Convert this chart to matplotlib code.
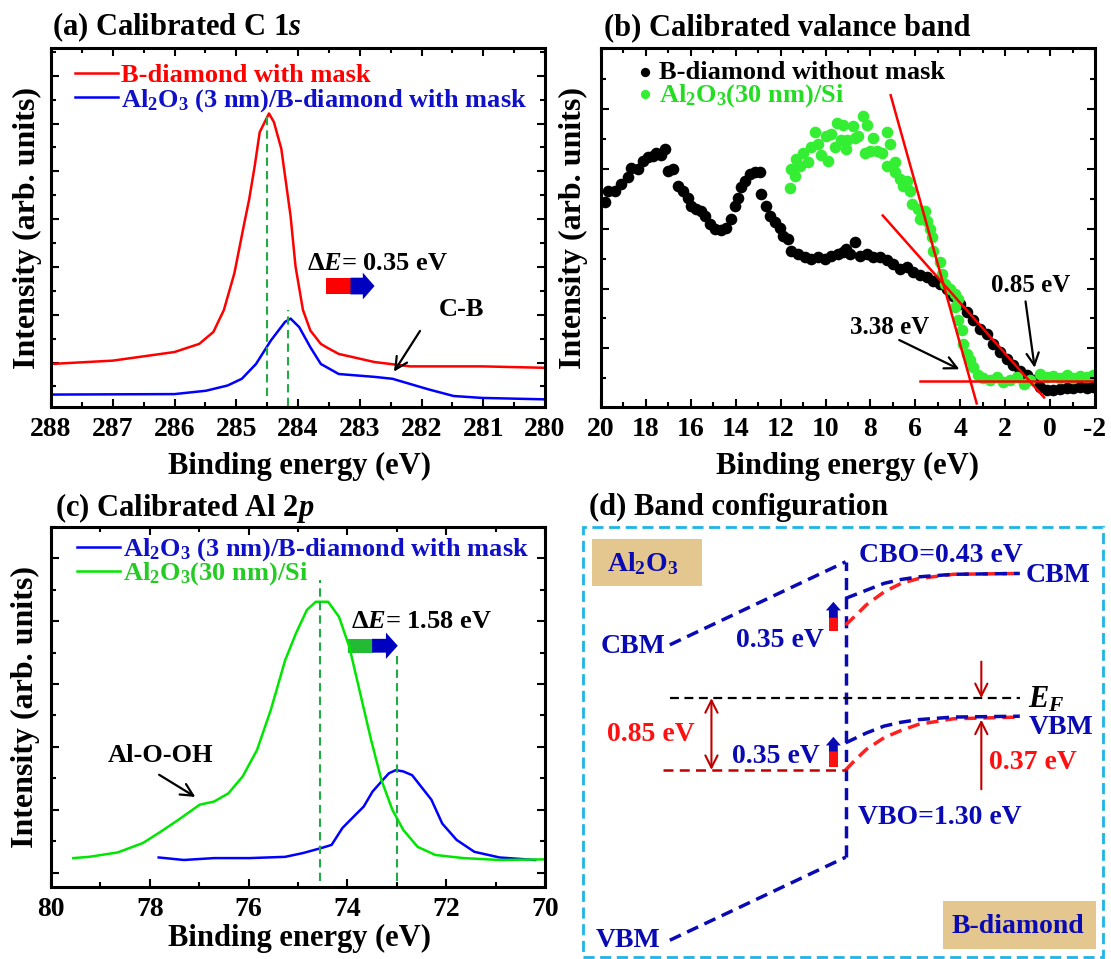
import matplotlib
matplotlib.use('Agg')
from matplotlib import pyplot as plt
from matplotlib.patches import Rectangle, FancyArrow
from matplotlib.ticker import MultipleLocator

# settings: Times-like bold everywhere, also inside mathtext
plt.rcParams['font.family'] = ['Liberation Serif', 'DejaVu Serif']
plt.rcParams['font.weight'] = 'bold'
plt.rcParams['mathtext.fontset'] = 'custom'
plt.rcParams['mathtext.rm'] = 'Liberation Serif:bold'
plt.rcParams['mathtext.it'] = 'Liberation Serif:italic:bold'
plt.rcParams['mathtext.bf'] = 'Liberation Serif:bold'
plt.rcParams['mathtext.default'] = 'rm'
plt.rcParams['axes.unicode_minus'] = False

# ---------------- data ----------------
# (a) C 1s
c1s_x_red = [288, 287, 286, 285.6, 285.37, 285.2, 285.03, 284.88, 284.79, 284.7, 284.62, 284.47,
             284.39, 284.33, 284.27, 284.12, 284.04, 283.92, 283.8, 283.63, 283.54, 283.34,
             282.76, 282.18, 281.02, 280]
c1s_red = [-0.03, 0.04, 0.22, 0.39, 0.64, 1.10, 1.87, 2.85, 3.42, 4.12, 4.82, 5.21,
           5.03, 4.75, 4.47, 3.06, 2.01, 1.10, 0.67, 0.39, 0.32, 0.18,
           0.01, -0.08, -0.08, -0.11]
c1s_x_blue = [288, 286, 285.49, 285.14, 284.91, 284.68, 284.44, 284.21, 284.12, 283.98,
              283.8, 283.63, 283.34, 282.76, 282.47, 282.18, 281.89, 281.48, 281.02, 280]
c1s_blue = [-0.67, -0.66, -0.59, -0.48, -0.34, -0.03, 0.46, 0.85, 0.92, 0.74,
            0.32, -0.03, -0.24, -0.30, -0.34, -0.45, -0.56, -0.70, -0.74, -0.77]
c1s_peaks = [284.5, 284.17]

# (b) valence band
vb_x_black = [19.84, 19.69, 19.39, 19.09, 18.8, 18.65, 18.35, 18.13, 17.91, 17.68, 17.54, 17.31,
              17.16, 17.02, 16.79, 16.57, 16.35, 16.12, 15.98, 15.75, 15.53, 15.38, 15.16, 14.94,
              14.64, 14.42, 14.2, 14.04, 13.9, 13.75, 13.6, 13.38, 13.15, 12.93, 12.86, 12.64,
              12.49, 12.26, 12.04, 11.89, 11.67, 11.52, 11.22, 10.93, 10.63, 10.33, 10.04, 9.74,
              9.44, 9.21, 9.07, 8.91, 8.69, 8.46, 8.16, 7.87, 7.57, 7.27, 6.98, 6.68, 6.38, 6.09,
              5.79, 5.49, 5.2, 4.9, 4.6, 4.31, 4.01, 3.71, 3.42, 3.12, 2.82, 2.53, 2.23, 1.93,
              1.63, 1.34, 1.04, 0.74, 0.45, 0.15, -0.15, -0.45, -0.74, -1.04, -1.34, -1.63, -1.93]
vb_black = [2.44, 2.63, 2.63, 2.74, 2.86, 3.02, 3.0, 3.13, 3.19, 3.22, 3.27, 3.24,
            3.33, 2.97, 3.0, 2.72, 2.63, 2.52, 2.38, 2.33, 2.3, 2.22, 2.08, 1.99,
            1.98, 2.02, 2.16, 2.38, 2.52, 2.69, 2.8, 2.91, 2.94, 2.94, 2.58, 2.38,
            2.22, 2.11, 2.02, 1.88, 1.83, 1.63, 1.58, 1.52, 1.49, 1.52, 1.49, 1.55,
            1.58, 1.61, 1.66, 1.58, 1.77, 1.55, 1.58, 1.52, 1.52, 1.47, 1.41, 1.33, 1.36, 1.27,
            1.22, 1.19, 1.13, 1.08, 0.99, 0.88, 0.74, 0.61, 0.47, 0.33, 0.24, 0.08, -0.06, -0.17,
            -0.28, -0.37, -0.45, -0.53, -0.64, -0.7, -0.7, -0.68, -0.67, -0.67, -0.64, -0.66, -0.64]
vb_x_green = [11.6, 11.52, 11.37, 11.3, 11.15, 11.0, 10.78, 10.63, 10.48, 10.33, 10.19, 9.96,
              9.89, 9.74, 9.59, 9.47, 9.29, 9.21, 9.07, 9.05, 8.76, 8.69, 8.54, 8.34, 8.24,
              8.16, 8.02, 7.87, 7.72, 7.5, 7.27, 7.13, 7.27, 6.9, 6.9, 6.68, 6.53, 6.38, 6.24,
              6.16, 5.87, 5.79, 5.57, 5.49, 5.35, 5.27, 5.2, 4.9, 4.82, 4.68, 4.45, 4.23, 4.08,
              4.23, 4.08, 3.93, 3.86, 3.71, 3.56, 3.42, 3.19, 2.97, 2.67, 2.37, 2.08, 1.78,
              1.48, 1.18, 0.89, 0.45, 0.15, -0.15, -0.45, -0.74, -1.04, -1.34, -1.63, -1.93]
vb_green = [2.68, 2.99, 2.88, 3.16, 3.05, 3.27, 3.11, 3.36, 3.61, 3.41, 3.24, 3.55,
            3.13, 3.58, 3.36, 3.76, 3.49, 3.74, 3.33, 3.49, 3.72, 3.52, 3.55, 3.88, 3.27,
            3.74, 3.3, 3.52, 3.3, 3.27, 3.61, 3.41, 3.05, 3.11, 2.94, 2.83, 2.72, 2.8, 2.63,
            2.41, 2.33, 2.16, 2.3, 2.13, 1.99, 1.86, 1.63, 1.44, 1.24, 1.08, 0.99, 0.91, 0.83,
            0.69, 0.47, 0.3, 0.08, -0.09, -0.2, -0.31, -0.45, -0.5, -0.53, -0.48, -0.56, -0.53,
            -0.48, -0.59, -0.53, -0.43, -0.48, -0.47, -0.49, -0.45, -0.49, -0.47, -0.48, -0.45]
# linear fits (end points) for the onsets
fit_steep_x, fit_steep_y = [7.1, 3.27], [4.23, -0.92]
fit_slope_x, fit_slope_y = [7.45, 0.27], [2.22, -0.82]
fit_base_x, fit_base_y = [5.79, -2.08], [-0.55, -0.55]

# (c) Al 2p
al_x_green = [79.55, 79.23, 78.65, 78.14, 77.78, 77.42, 76.99, 76.7, 76.41, 76.12, 75.83, 75.55,
              75.26, 75.04, 74.82, 74.64, 74.39, 74.17, 73.96, 73.74, 73.52, 73.31, 73.09,
              72.87, 72.58, 72.22, 71.65, 70.92, 70.0]
al_green = [0.23, 0.25, 0.32, 0.47, 0.65, 0.84, 1.08, 1.13, 1.26, 1.53, 1.95, 2.59,
            3.38, 3.81, 4.18, 4.31, 4.31, 4.07, 3.59, 2.85, 2.11, 1.47, 1.00,
            0.68, 0.41, 0.28, 0.23, 0.20, 0.21]
al_x_blue = [77.82, 77.31, 76.7, 75.98, 75.26, 74.9, 74.53, 74.32, 74.1, 73.81, 73.67, 73.49,
             73.31, 73.16, 73.02, 72.87, 72.69, 72.51, 72.3, 72.08, 71.79, 71.43, 70.92, 70.2]
al_blue = [0.24, 0.20, 0.23, 0.23, 0.25, 0.31, 0.39, 0.44, 0.71, 0.94, 1.05, 1.29,
           1.45, 1.58, 1.63, 1.61, 1.55, 1.37, 1.16, 0.78, 0.52, 0.33, 0.24, 0.20]
al_peaks = [74.55, 73.0]

# (d) band diagram, schematic units (box = 0..100)
al2o3_x = [16.7, 50.5]
al2o3_cbm = [72.6, 91.9]
al2o3_vbm = [3.9, 23.2]
dia_x_cb_blue = [50.5, 54.5, 57.9, 61.2, 64.5, 71.2, 84.0]
dia_cb_blue = [83.4, 85.3, 86.9, 87.8, 88.4, 89.0, 89.2]
dia_x_cb_red = [50.5, 52.5, 54.5, 57.9, 61.2, 64.5, 71.2, 84.0]
dia_cb_red = [77.2, 79.5, 81.9, 84.9, 86.9, 88.0, 89.0, 89.2]
dia_x_vb_blue = [50.5, 54.5, 57.9, 61.2, 64.5, 71.2, 84.0]
dia_vb_blue = [49.8, 52.1, 53.7, 54.6, 55.2, 55.8, 56.0]
dia_x_vb_red = [50.5, 52.5, 54.5, 57.9, 61.2, 64.5, 71.2, 84.0]
dia_vb_red = [43.5, 46.0, 48.3, 51.0, 52.7, 54.1, 55.4, 55.8]
ef_x, ef_level = [16.7, 84.0], 60.2
vbm_ref_x, vbm_ref_level = [15.4, 50.5], 43.5

W, H = 1111.0, 959.0
RED = '#ff0000'
BLUE = '#0000ff'
GREEN = '#00e600'
DGREEN = '#22aa44'
NAVY = '#0a0ab4'
DRED = '#c00000'


def px(x, y, w, h):
    # figure rectangle from pixel box (top-left origin)
    return [x / W, 1 - (y + h) / H, w / W, h / H]


def style(ax, xmaj, xmin, ymaj, ymin):
    ax.xaxis.set_major_locator(MultipleLocator(xmaj))
    ax.xaxis.set_minor_locator(MultipleLocator(xmin))
    ax.yaxis.set_major_locator(MultipleLocator(ymaj))
    ax.yaxis.set_minor_locator(MultipleLocator(ymin))
    ax.tick_params(which='both', direction='in', top=True, right=True, width=1.5,
                   labelsize=20, pad=7, labelleft=False)
    ax.tick_params(which='major', length=6)
    ax.tick_params(which='minor', length=3.5)
    for s in ax.spines.values():
        s.set_linewidth(2.2)


fig = plt.figure(figsize=(W / 100, H / 100), dpi=100)

# ---------------- (a) ----------------
ax = fig.add_axes(px(51, 48, 494, 359))
ax.plot(c1s_x_red, c1s_red, color=RED, lw=1.8, label='B-diamond with mask')
ax.plot(c1s_x_blue, c1s_blue, color=BLUE, lw=1.8,
        label='Al$_2$O$_3$ (3 nm)/B-diamond with mask')
ax.plot([c1s_peaks[0]] * 2, [-0.7, 5.25], color=DGREEN, lw=1.5, dashes=(4, 2.5))
ax.plot([c1s_peaks[1]] * 2, [-0.9, 1.1], color=DGREEN, lw=1.5, dashes=(4, 2.5))
ax.set_xlim(288, 280)
ax.set_ylim(-0.93, 6.58)
style(ax, 1, 0.5, 1, 0.5)
ax.legend(loc='upper left', bbox_to_anchor=(0.0486, 0.957), frameon=False, fontsize=19,
          handlelength=1.63, handletextpad=0.1, labelspacing=0.01, borderaxespad=0,
          borderpad=0, labelcolor=['#ff0000', '#1010c8'])
ax.add_patch(Rectangle((283.14, 1.425), 0.40, 0.35, color=RED, lw=0))
ax.add_patch(FancyArrow(283.15, 1.6, -0.39, 0, width=0.35, head_width=0.56, head_length=0.19,
                        length_includes_head=True, color='#0000c0', lw=0))
ax.text(283.86, 2.08, r'Δ$\mathit{E}$= 0.35 eV', fontsize=19, ha='left', va='center')
ax.text(281.36, 1.1, 'C-B', fontsize=19, ha='center', va='center')
ax.annotate('', xy=(282.47, -0.24), xytext=(282.0, 0.71),
            arrowprops=dict(arrowstyle='->', lw=1.6, color='k', mutation_scale=22))

# ---------------- (b) ----------------
ax = fig.add_axes(px(601, 48, 494, 359))
ax.scatter(vb_x_black, vb_black, s=70, color='k', lw=0, label='B-diamond without mask')
ax.scatter(vb_x_green, vb_green, s=70, color='#33ee33', lw=0, label='Al$_2$O$_3$(30 nm)/Si')
ax.plot(fit_steep_x, fit_steep_y, color=RED, lw=1.8)
ax.plot(fit_slope_x, fit_slope_y, color=RED, lw=1.8)
ax.plot(fit_base_x, fit_base_y, color=RED, lw=1.8)
ax.set_xlim(20, -2)
ax.set_ylim(-0.98, 5.02)
style(ax, 2, 1, 1, 0.5)
ax.legend(loc='upper left', bbox_to_anchor=(0.073, 0.965), frameon=False, fontsize=19,
          handlelength=0.6, handletextpad=0.25, labelspacing=-0.08, borderaxespad=0,
          borderpad=0, scatterpoints=1, markerscale=0.8, labelcolor=['k', '#22dd22'])
ax.text(0.85, 1.05, '0.85 eV', fontsize=18, ha='center', va='center')
ax.annotate('', xy=(0.67, -0.37), xytext=(1.11, 0.83),
            arrowprops=dict(arrowstyle='->', lw=1.6, color='k', mutation_scale=22))
ax.text(7.13, 0.35, '3.38 eV', fontsize=18, ha='center', va='center')
ax.annotate('', xy=(3.93, -0.37), xytext=(6.83, 0.16),
            arrowprops=dict(arrowstyle='->', lw=1.6, color='k', mutation_scale=22))

# ---------------- (c) ----------------
ax = fig.add_axes(px(51, 527, 494, 360))
ax.plot(al_x_blue, al_blue, color=BLUE, lw=1.8, label='Al$_2$O$_3$ (3 nm)/B-diamond with mask')
ax.plot(al_x_green, al_green, color=GREEN, lw=1.8, label='Al$_2$O$_3$(30 nm)/Si')
ax.plot([al_peaks[0]] * 2, [-0.14, 4.66], color=DGREEN, lw=1.5, dashes=(4, 2.5))
ax.plot([al_peaks[1]] * 2, [-0.14, 3.49], color=DGREEN, lw=1.5, dashes=(4, 2.5))
ax.set_xlim(80, 70)
ax.set_ylim(-0.23, 5.5)
style(ax, 2, 1, 1, 0.5)
ax.legend(loc='upper left', bbox_to_anchor=(0.0526, 0.974), frameon=False, fontsize=19,
          handlelength=1.63, handletextpad=0.1, labelspacing=-0.1, borderaxespad=0,
          borderpad=0, labelcolor=['#1010c8', '#22cc22'])
ax.add_patch(Rectangle((73.49, 3.5), 0.5, 0.22, color='#22bb33', lw=0))
ax.add_patch(FancyArrow(73.5, 3.61, -0.52, 0, width=0.22, head_width=0.42, head_length=0.24,
                        length_includes_head=True, color='#0000c0', lw=0))
ax.text(73.92, 3.99, r'Δ$\mathit{E}$= 1.58 eV', fontsize=19, ha='left', va='center')
ax.text(77.78, 1.87, 'Al-O-OH', fontsize=19, ha='center', va='center')
ax.annotate('', xy=(77.03, 1.18), xytext=(77.86, 1.58),
            arrowprops=dict(arrowstyle='->', lw=1.6, color='k', mutation_scale=22))

# ---------------- (d) ----------------
ax = fig.add_axes(px(583, 527, 520, 430))
ax.set_xlim(0, 100)
ax.set_ylim(0, 100)
ax.axis('off')
ax.add_patch(Rectangle((0, 0), 1, 1, transform=ax.transAxes, fill=False, ec='#1eb4e6',
                       lw=2, ls=(0, (4, 2)), clip_on=False))
ax.add_patch(Rectangle((1.8, 86.3), 21.1, 11.0, color='#e4c78e', lw=0))
ax.add_patch(Rectangle((69.2, 1.9), 29.5, 11.2, color='#e4c78e', lw=0))
ax.text(11.4, 91.5, 'Al$_2$O$_3$', color=NAVY, fontsize=20, ha='center', va='center')
ax.text(83.6, 7.2, 'B-diamond', color=NAVY, fontsize=20, ha='center', va='center')

bd = dict(lw=2.5, dashes=(3.5, 2))
ax.plot(al2o3_x, al2o3_cbm, color=NAVY, **bd)
ax.plot(al2o3_x, al2o3_vbm, color=NAVY, **bd)
ax.plot([al2o3_x[1]] * 2, [al2o3_vbm[1], al2o3_cbm[1]], color=NAVY, **bd)
ax.plot(dia_x_cb_red, dia_cb_red, color='#ff2020', **bd)
ax.plot(dia_x_cb_blue, dia_cb_blue, color=NAVY, **bd)
ax.plot(dia_x_vb_red, dia_vb_red, color='#ff2020', **bd)
ax.plot(dia_x_vb_blue, dia_vb_blue, color=NAVY, **bd)
ax.plot(ef_x, [ef_level] * 2, color='k', lw=1.6, dashes=(4, 2.5))
ax.plot(vbm_ref_x, [vbm_ref_level] * 2, color=DRED, lw=1.8, dashes=(4, 2.5))

ax.annotate('', xy=(24.7, vbm_ref_level), xytext=(24.7, ef_level),
            arrowprops=dict(arrowstyle='<->', lw=1.5, color=DRED, mutation_scale=22,
                            shrinkA=0, shrinkB=0))
ax.annotate('', xy=(76.6, ef_level), xytext=(76.6, 68.7),
            arrowprops=dict(arrowstyle='->', lw=1.5, color=DRED, mutation_scale=22,
                            shrinkA=0, shrinkB=0))
ax.annotate('', xy=(76.6, 55.2), xytext=(76.6, 39.0),
            arrowprops=dict(arrowstyle='->', lw=1.5, color=DRED, mutation_scale=22,
                            shrinkA=0, shrinkB=0))

for y0, y1, y2 in [(75.7, 79.0, 82.6), (44.2, 47.9, 51.2)]:
    ax.add_patch(Rectangle((47.3, y0), 1.7, y1 - y0, color='#ff1010', lw=0))
    ax.add_patch(FancyArrow(48.15, y1 - 0.1, 0, y2 - y1 + 0.1, width=1.7, head_width=2.9,
                            head_length=2.0, length_includes_head=True, color=NAVY, lw=0))

ax.text(68.9, 93.4, 'CBO=0.43 eV', color=NAVY, fontsize=20, ha='center', va='center')
ax.text(91.3, 88.8, 'CBM', color=NAVY, fontsize=20, ha='center', va='center')
ax.text(9.7, 72.2, 'CBM', color=NAVY, fontsize=20, ha='center', va='center')
ax.text(92.0, 53.3, 'VBM', color=NAVY, fontsize=20, ha='center', va='center')
ax.text(8.7, 3.9, 'VBM', color=NAVY, fontsize=20, ha='center', va='center')
ax.text(68.6, 32.4, 'VBO=1.30 eV', color=NAVY, fontsize=20, ha='center', va='center')
ax.text(37.8, 73.7, '0.35 eV', color=NAVY, fontsize=20, ha='center', va='center')
ax.text(37.1, 46.7, '0.35 eV', color=NAVY, fontsize=20, ha='center', va='center')
ax.text(13.0, 51.7, '0.85 eV', color='#ff1010', fontsize=20, ha='center', va='center')
ax.text(86.6, 45.2, '0.37 eV', color='#ff1010', fontsize=20, ha='center', va='center')
ax.text(89.0, 59.8, r'$\mathit{E}_\mathit{F}$', color='k', fontsize=22, ha='center', va='center')

# ---------------- titles / labels ----------------
fig.text(52 / W, 1 - 35 / H, r'(a) Calibrated C 1$\mathit{s}$', fontsize=22, va='baseline')
fig.text(604 / W, 1 - 35 / H, '(b) Calibrated valance band', fontsize=22, va='baseline')
fig.text(55 / W, 1 - 516 / H, r'(c) Calibrated Al 2$\mathit{p}$', fontsize=22, va='baseline')
fig.text(589 / W, 1 - 515 / H, '(d) Band configuration', fontsize=22, va='baseline')

for xc, yc in [(300, 466), (848, 466), (300, 938)]:
    fig.text(xc / W, 1 - yc / H, 'Binding energy (eV)', fontsize=22, ha='center', va='center')
for xc, yc in [(27, 228), (573, 228), (25, 707)]:
    fig.text(xc / W, 1 - yc / H, 'Intensity (arb. units)', fontsize=23, rotation=90,
             ha='center', va='center')

plt.savefig('out.png', dpi=100)
